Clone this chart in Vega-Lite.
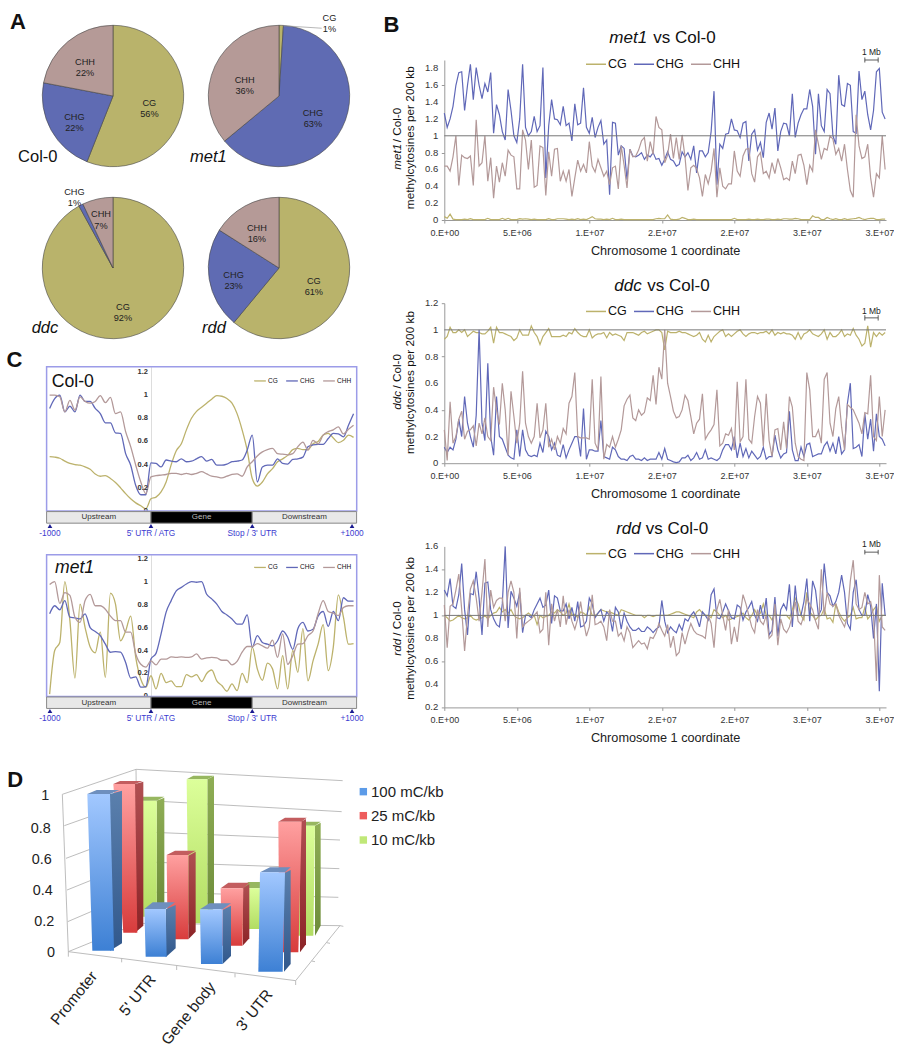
{"$schema":"https://vega.github.io/schema/vega-lite/v6.json","padding":0,"background":"white","autosize":"pad","config":{"font":"Liberation Sans","view":{"stroke":null},"axis":{"grid":false,"labelColor":"#333","domainColor":"#999","tickColor":"#999","labelFont":"Liberation Sans","titleFont":"Liberation Sans","titleFontWeight":"normal","titleColor":"#222"},"legend":{"labelFont":"Liberation Sans","labelColor":"#111"}},
"datasets":{
"one":[{"id":1}],
"letter":[{"t":"D","x":22,"y":80}],
"t1":[{"w":0,"t":"0"},{"w":0.2,"t":"0.2"},{"w":0.4,"t":"0.4"},{"w":0.6,"t":"0.6"},{"w":0.8,"t":"0.8"},{"w":1,"t":"1"},{"w":1.2,"t":"1.2"},{"w":1.4,"t":"1.4"},{"w":1.6,"t":"1.6"},{"w":1.8,"t":"1.8"}],
"t2":[{"w":0,"t":"0"},{"w":0.2,"t":"0.2"},{"w":0.4,"t":"0.4"},{"w":0.6,"t":"0.6"},{"w":0.8,"t":"0.8"},{"w":1,"t":"1"},{"w":1.2,"t":"1.2"}],
"t3":[{"w":0.2,"t":"0.2"},{"w":0.4,"t":"0.4"},{"w":0.6,"t":"0.6"},{"w":0.8,"t":"0.8"},{"w":1,"t":"1"},{"w":1.2,"t":"1.2"},{"w":1.4,"t":"1.4"},{"w":1.6,"t":"1.6"}],
"pie1":[{"c":"CG","p":56,"o":1,"t1":"CG\n56%","t2":""},{"c":"CHG","p":22,"o":2,"t1":"","t2":"CHG\n22%"},{"c":"CHH","p":22,"o":3,"t1":"","t2":"CHH\n22%"}],
"pie2":[{"c":"CG","p":1,"o":1,"t1":"","t2":"CG\n1%"},{"c":"CHG","p":63,"o":2,"t1":"CHG\n63%","t2":""},{"c":"CHH","p":36,"o":3,"t1":"CHH\n36%","t2":""}],
"pie3":[{"c":"CG","p":92,"o":1,"t1":"CG\n92%","t2":"","t3":""},{"c":"CHG","p":1,"o":2,"t1":"","t2":"","t3":"CHG\n1%"},{"c":"CHH","p":7,"o":3,"t1":"","t2":"CHH\n7%","t3":""}],
"pie4":[{"c":"CG","p":61,"o":1,"t1":"CG\n61%","t2":""},{"c":"CHG","p":23,"o":2,"t1":"","t2":"CHG\n23%"},{"c":"CHH","p":16,"o":3,"t1":"","t2":"CHH\n16%"}],
"track":[{"seg":"Upstream","a":-1030,"b":0,"m":-515},{"seg":"Gene","a":0,"b":1000,"m":500},{"seg":"Downstream","a":1000,"b":2030,"m":1515}],
"marks":[{"lab":"-1000","pos":-997},{"lab":"5' UTR / ATG","pos":0},{"lab":"Stop / 3' UTR","pos":1000},{"lab":"+1000","pos":1985}],
"c1":[{"x":-1000,"CG":0.47,"CHG":0.885,"CHH":1.0},{"x":-950,"CG":0.465,"CHG":0.97,"CHH":1.0},{"x":-900,"CG":0.455,"CHG":1.0,"CHH":0.985},{"x":-850,"CG":0.43,"CHG":0.855,"CHH":0.855},{"x":-800,"CG":0.41,"CHG":0.905,"CHH":0.955},{"x":-750,"CG":0.40,"CHG":0.855,"CHH":0.87},{"x":-700,"CG":0.395,"CHG":1.0,"CHH":0.985},{"x":-650,"CG":0.38,"CHG":0.945,"CHH":0.945},{"x":-600,"CG":0.36,"CHG":0.945,"CHH":0.93},{"x":-550,"CG":0.32,"CHG":0.885,"CHH":0.945},{"x":-500,"CG":0.30,"CHG":0.84,"CHH":0.995},{"x":-450,"CG":0.305,"CHG":0.76,"CHH":0.935},{"x":-400,"CG":0.28,"CHG":0.76,"CHH":0.98},{"x":-350,"CG":0.245,"CHG":0.675,"CHH":0.84},{"x":-300,"CG":0.2,"CHG":0.67,"CHH":0.855},{"x":-250,"CG":0.15,"CHG":0.495,"CHH":0.685},{"x":-200,"CG":0.105,"CHG":0.395,"CHH":0.555},{"x":-150,"CG":0.07,"CHG":0.22,"CHH":0.395},{"x":-100,"CG":0.045,"CHG":0.14,"CHH":0.25},{"x":-50,"CG":0.02,"CHG":0.14,"CHH":0.15},{"x":0,"CG":0.105,"CHG":0.415,"CHH":0.295},{"x":50,"CG":0.12,"CHG":0.41,"CHH":0.305},{"x":100,"CG":0.165,"CHG":0.38,"CHH":0.31},{"x":150,"CG":0.25,"CHG":0.44,"CHH":0.315},{"x":200,"CG":0.40,"CHG":0.43,"CHH":0.325},{"x":250,"CG":0.52,"CHG":0.425,"CHH":0.325},{"x":300,"CG":0.58,"CHG":0.45,"CHH":0.315},{"x":350,"CG":0.70,"CHG":0.425,"CHH":0.325},{"x":400,"CG":0.80,"CHG":0.43,"CHH":0.315},{"x":450,"CG":0.86,"CHG":0.45,"CHH":0.325},{"x":500,"CG":0.895,"CHG":0.47,"CHH":0.34},{"x":550,"CG":0.93,"CHG":0.43,"CHH":0.32},{"x":600,"CG":0.965,"CHG":0.445,"CHH":0.30},{"x":650,"CG":0.995,"CHG":0.395,"CHH":0.295},{"x":700,"CG":0.99,"CHG":0.395,"CHH":0.285},{"x":750,"CG":0.97,"CHG":0.405,"CHH":0.30},{"x":800,"CG":0.93,"CHG":0.425,"CHH":0.315},{"x":850,"CG":0.84,"CHG":0.43,"CHH":0.32},{"x":900,"CG":0.70,"CHG":0.44,"CHH":0.30},{"x":950,"CG":0.525,"CHG":0.525,"CHH":0.38},{"x":1000,"CG":0.28,"CHG":0.655,"CHH":0.425},{"x":1050,"CG":0.215,"CHG":0.25,"CHH":0.475},{"x":1100,"CG":0.25,"CHG":0.38,"CHH":0.51},{"x":1150,"CG":0.32,"CHG":0.395,"CHH":0.53},{"x":1200,"CG":0.365,"CHG":0.395,"CHH":0.54},{"x":1250,"CG":0.425,"CHG":0.45,"CHH":0.495},{"x":1300,"CG":0.45,"CHG":0.41,"CHH":0.49},{"x":1350,"CG":0.48,"CHG":0.405,"CHH":0.485},{"x":1400,"CG":0.53,"CHG":0.445,"CHH":0.495},{"x":1450,"CG":0.54,"CHG":0.45,"CHH":0.555},{"x":1500,"CG":0.53,"CHG":0.465,"CHH":0.595},{"x":1550,"CG":0.53,"CHG":0.555,"CHH":0.525},{"x":1600,"CG":0.58,"CHG":0.57,"CHH":0.61},{"x":1650,"CG":0.60,"CHG":0.575,"CHH":0.58},{"x":1700,"CG":0.655,"CHG":0.575,"CHH":0.655},{"x":1750,"CG":0.67,"CHG":0.625,"CHH":0.685},{"x":1800,"CG":0.63,"CHG":0.67,"CHH":0.70},{"x":1850,"CG":0.59,"CHG":0.665,"CHH":0.725},{"x":1900,"CG":0.61,"CHG":0.64,"CHH":0.665},{"x":1950,"CG":0.655,"CHG":0.74,"CHH":0.705},{"x":2000,"CG":0.635,"CHG":0.84,"CHH":0.74}],
"c2":[{"x":-1000,"CG":0.02,"CHG":0.72,"CHH":0.975},{"x":-950,"CG":0.40,"CHG":0.79,"CHH":1.0},{"x":-900,"CG":0.47,"CHG":0.755,"CHH":0.81},{"x":-850,"CG":1.0,"CHG":0.835,"CHH":0.905},{"x":-800,"CG":0.66,"CHG":0.69,"CHH":0.88},{"x":-750,"CG":0.16,"CHG":0.685,"CHH":0.69},{"x":-700,"CG":0.805,"CHG":0.675,"CHH":0.645},{"x":-650,"CG":0.6,"CHG":0.72,"CHH":0.835},{"x":-600,"CG":0.43,"CHG":0.60,"CHH":0.89},{"x":-550,"CG":0.38,"CHG":0.565,"CHH":0.79},{"x":-500,"CG":0.56,"CHG":0.53,"CHH":0.79},{"x":-450,"CG":0.165,"CHG":0.455,"CHH":0.76},{"x":-400,"CG":0.9,"CHG":0.385,"CHH":0.70},{"x":-350,"CG":0.805,"CHG":0.39,"CHH":0.66},{"x":-300,"CG":0.485,"CHG":0.385,"CHH":0.66},{"x":-250,"CG":0.57,"CHG":0.295,"CHH":0.56},{"x":-200,"CG":0.70,"CHG":0.16,"CHH":0.56},{"x":-150,"CG":0.34,"CHG":0.17,"CHH":0.37},{"x":-100,"CG":0.15,"CHG":0.08,"CHH":0.28},{"x":-50,"CG":0.08,"CHG":0.085,"CHH":0.255},{"x":0,"CG":0.18,"CHG":0.325,"CHH":0.31},{"x":50,"CG":0.065,"CHG":0.375,"CHH":0.275},{"x":100,"CG":0.2,"CHG":0.545,"CHH":0.325},{"x":150,"CG":0.12,"CHG":0.735,"CHH":0.325},{"x":200,"CG":0.135,"CHG":0.835,"CHH":0.345},{"x":250,"CG":0.085,"CHG":0.92,"CHH":0.34},{"x":300,"CG":0.085,"CHG":0.95,"CHH":0.345},{"x":350,"CG":0.19,"CHG":0.98,"CHH":0.34},{"x":400,"CG":0.17,"CHG":1.0,"CHH":0.345},{"x":450,"CG":0.19,"CHG":0.995,"CHH":0.37},{"x":500,"CG":0.13,"CHG":1.0,"CHH":0.325},{"x":550,"CG":0.2,"CHG":0.89,"CHH":0.335},{"x":600,"CG":0.23,"CHG":0.85,"CHH":0.34},{"x":650,"CG":0.135,"CHG":0.805,"CHH":0.335},{"x":700,"CG":0.095,"CHG":0.74,"CHH":0.315},{"x":750,"CG":0.045,"CHG":0.71,"CHH":0.315},{"x":800,"CG":0.11,"CHG":0.675,"CHH":0.275},{"x":850,"CG":0.05,"CHG":0.63,"CHH":0.305},{"x":900,"CG":0.2,"CHG":0.63,"CHH":0.385},{"x":950,"CG":0.12,"CHG":0.71,"CHH":0.435},{"x":1000,"CG":0.43,"CHG":0.43,"CHH":0.435},{"x":1050,"CG":0.24,"CHG":0.53,"CHH":0.46},{"x":1100,"CG":0.14,"CHG":0.47,"CHH":0.44},{"x":1150,"CG":0.29,"CHG":0.455,"CHH":0.42},{"x":1200,"CG":0.24,"CHG":0.44,"CHH":0.49},{"x":1250,"CG":0.065,"CHG":0.485,"CHH":0.34},{"x":1300,"CG":0.355,"CHG":0.57,"CHH":0.545},{"x":1350,"CG":0.065,"CHG":0.515,"CHH":0.28},{"x":1400,"CG":0.40,"CHG":0.41,"CHH":0.355},{"x":1450,"CG":0.21,"CHG":0.59,"CHH":0.455},{"x":1500,"CG":0.59,"CHG":0.645,"CHH":0.46},{"x":1550,"CG":0.135,"CHG":0.57,"CHH":0.53},{"x":1600,"CG":0.31,"CHG":0.585,"CHH":0.57},{"x":1650,"CG":0.455,"CHG":0.70,"CHH":0.72},{"x":1700,"CG":0.625,"CHG":0.74,"CHH":0.835},{"x":1750,"CG":0.225,"CHG":0.61,"CHH":0.74},{"x":1800,"CG":0.43,"CHG":0.74,"CHH":0.725},{"x":1850,"CG":0.885,"CHG":0.66,"CHH":0.705},{"x":1900,"CG":0.69,"CHG":0.86,"CHH":0.775},{"x":1950,"CG":0.455,"CHG":0.83,"CHH":0.79},{"x":2000,"CG":0.46,"CHG":0.83,"CHH":0.79}],
"b1":[{"x":0,"CG":0.04,"CHG":1.27,"CHH":0.64},{"x":0.2,"CG":0.02,"CHG":1.1,"CHH":0.64},{"x":0.4,"CG":0.07,"CHG":1.2,"CHH":0.58},{"x":0.6,"CG":0.01,"CHG":1.35,"CHH":0.75},{"x":0.8,"CG":0.005,"CHG":1.6,"CHH":1.0},{"x":1,"CG":0.005,"CHG":1.75,"CHH":0.41},{"x":1.2,"CG":0.005,"CHG":1.76,"CHH":0.77},{"x":1.4,"CG":0.01,"CHG":1.3,"CHH":0.74},{"x":1.6,"CG":0.005,"CHG":1.6,"CHH":0.73},{"x":1.8,"CG":0.015,"CHG":1.85,"CHH":0.76},{"x":2,"CG":0.005,"CHG":1.43,"CHH":0.41},{"x":2.2,"CG":0.005,"CHG":1.81,"CHH":1.19},{"x":2.4,"CG":0.005,"CHG":1.6,"CHH":0.64},{"x":2.6,"CG":0.005,"CHG":1.44,"CHH":0.68},{"x":2.8,"CG":0.005,"CHG":1.62,"CHH":1.0},{"x":3,"CG":0.02,"CHG":1.52,"CHH":0.46},{"x":3.2,"CG":0.005,"CHG":1.75,"CHH":0.74},{"x":3.4,"CG":0.005,"CHG":1.03,"CHH":0.26},{"x":3.6,"CG":0.005,"CHG":1.37,"CHH":0.64},{"x":3.8,"CG":0.005,"CHG":1.25,"CHH":0.45},{"x":4,"CG":0.02,"CHG":1.05,"CHH":0.68},{"x":4.2,"CG":0.005,"CHG":0.95,"CHH":0.52},{"x":4.4,"CG":0.02,"CHG":1.55,"CHH":0.83},{"x":4.6,"CG":0.005,"CHG":1.3,"CHH":0.77},{"x":4.8,"CG":0.005,"CHG":1.0,"CHH":0.75},{"x":5,"CG":0.005,"CHG":0.92,"CHH":0.37},{"x":5.2,"CG":0.015,"CHG":1.2,"CHH":0.37},{"x":5.4,"CG":0.01,"CHG":1.85,"CHH":1.07},{"x":5.6,"CG":0.015,"CHG":1.1,"CHH":0.95},{"x":5.8,"CG":0.01,"CHG":1.0,"CHH":0.6},{"x":6,"CG":0.005,"CHG":1.05,"CHH":0.95},{"x":6.2,"CG":0.01,"CHG":1.23,"CHH":0.39},{"x":6.4,"CG":0.005,"CHG":1.05,"CHH":0.41},{"x":6.6,"CG":0.005,"CHG":1.12,"CHH":0.88},{"x":6.8,"CG":0.005,"CHG":1.81,"CHH":0.86},{"x":7,"CG":0.005,"CHG":0.5,"CHH":0.29},{"x":7.2,"CG":0.015,"CHG":1.12,"CHH":0.81},{"x":7.4,"CG":0.005,"CHG":1.43,"CHH":0.52},{"x":7.6,"CG":0.005,"CHG":1.2,"CHH":0.84},{"x":7.8,"CG":0.015,"CHG":1.19,"CHH":0.85},{"x":8,"CG":0.015,"CHG":1.13,"CHH":0.46},{"x":8.2,"CG":0.015,"CHG":1.35,"CHH":0.58},{"x":8.4,"CG":0.01,"CHG":1.12,"CHH":0.46},{"x":8.6,"CG":0.005,"CHG":1.15,"CHH":0.6},{"x":8.8,"CG":0.01,"CHG":0.94,"CHH":0.28},{"x":9,"CG":0.005,"CHG":1.38,"CHH":0.5},{"x":9.2,"CG":0.015,"CHG":1.13,"CHH":0.71},{"x":9.4,"CG":0.005,"CHG":1.15,"CHH":0.58},{"x":9.6,"CG":0.01,"CHG":1.57,"CHH":0.66},{"x":9.8,"CG":0.005,"CHG":1.1,"CHH":0.56},{"x":10,"CG":0.02,"CHG":1.03,"CHH":0.93},{"x":10.2,"CG":0.04,"CHG":1.22,"CHH":0.64},{"x":10.4,"CG":0.015,"CHG":0.98,"CHH":0.57},{"x":10.6,"CG":0.01,"CHG":1.1,"CHH":0.72},{"x":10.8,"CG":0.01,"CHG":1.18,"CHH":0.62},{"x":11,"CG":0.005,"CHG":0.9,"CHH":0.52},{"x":11.2,"CG":0.01,"CHG":0.95,"CHH":0.58},{"x":11.4,"CG":0.005,"CHG":0.3,"CHH":0.42},{"x":11.6,"CG":0.02,"CHG":1.16,"CHH":0.62},{"x":11.8,"CG":0.005,"CHG":1.15,"CHH":0.64},{"x":12,"CG":0.005,"CHG":0.77,"CHH":0.37},{"x":12.2,"CG":0.01,"CHG":0.88,"CHH":0.88},{"x":12.4,"CG":0.005,"CHG":0.85,"CHH":0.65},{"x":12.6,"CG":0.005,"CHG":0.48,"CHH":0.38},{"x":12.8,"CG":0.005,"CHG":0.84,"CHH":0.84},{"x":13,"CG":0.005,"CHG":0.76,"CHH":0.75},{"x":13.2,"CG":0.005,"CHG":0.75,"CHH":0.76},{"x":13.4,"CG":0.005,"CHG":0.77,"CHH":0.83},{"x":13.6,"CG":0.005,"CHG":0.8,"CHH":0.94},{"x":13.8,"CG":0.005,"CHG":0.72,"CHH":0.98},{"x":14,"CG":0.005,"CHG":0.77,"CHH":0.7},{"x":14.2,"CG":0.005,"CHG":0.75,"CHH":0.93},{"x":14.4,"CG":0.005,"CHG":0.8,"CHH":0.78},{"x":14.6,"CG":0.015,"CHG":0.72,"CHH":1.23},{"x":14.8,"CG":0.02,"CHG":0.73,"CHH":1.1},{"x":15,"CG":0.015,"CHG":0.65,"CHH":1.07},{"x":15.2,"CG":0.015,"CHG":0.72,"CHH":0.68},{"x":15.4,"CG":0.06,"CHG":0.81,"CHH":0.77},{"x":15.6,"CG":0.01,"CHG":0.72,"CHH":1.02},{"x":15.8,"CG":0.005,"CHG":0.7,"CHH":0.73},{"x":16,"CG":0.005,"CHG":0.64,"CHH":0.98},{"x":16.2,"CG":0.01,"CHG":0.66,"CHH":0.72},{"x":16.4,"CG":0.03,"CHG":0.81,"CHH":1.01},{"x":16.6,"CG":0.02,"CHG":0.75,"CHH":0.75},{"x":16.8,"CG":0.005,"CHG":0.8,"CHH":0.35},{"x":17,"CG":0.005,"CHG":0.72,"CHH":0.62},{"x":17.2,"CG":0.01,"CHG":0.88,"CHH":0.65},{"x":17.4,"CG":0.005,"CHG":0.56,"CHH":0.61},{"x":17.6,"CG":0.005,"CHG":0.82,"CHH":0.5},{"x":17.8,"CG":0.005,"CHG":0.82,"CHH":0.28},{"x":18,"CG":0.005,"CHG":0.75,"CHH":0.54},{"x":18.2,"CG":0.005,"CHG":0.8,"CHH":0.43},{"x":18.4,"CG":0.005,"CHG":1.05,"CHH":0.58},{"x":18.6,"CG":0.005,"CHG":1.53,"CHH":0.85},{"x":18.8,"CG":0.005,"CHG":0.42,"CHH":0.27},{"x":19,"CG":0.005,"CHG":0.9,"CHH":0.62},{"x":19.2,"CG":0.005,"CHG":0.85,"CHH":0.4},{"x":19.4,"CG":0.005,"CHG":1.02,"CHH":0.37},{"x":19.6,"CG":0.005,"CHG":1.03,"CHH":0.43},{"x":19.8,"CG":0.005,"CHG":1.2,"CHH":0.43},{"x":20,"CG":0.02,"CHG":1.07,"CHH":0.82},{"x":20.2,"CG":0.005,"CHG":1.06,"CHH":0.58},{"x":20.4,"CG":0.005,"CHG":0.98,"CHH":0.52},{"x":20.6,"CG":0.005,"CHG":1.15,"CHH":0.76},{"x":20.8,"CG":0.005,"CHG":1.17,"CHH":0.84},{"x":21,"CG":0.01,"CHG":0.7,"CHH":0.85},{"x":21.2,"CG":0.005,"CHG":1.02,"CHH":0.55},{"x":21.4,"CG":0.005,"CHG":1.07,"CHH":0.45},{"x":21.6,"CG":0.01,"CHG":0.83,"CHH":0.75},{"x":21.8,"CG":0.005,"CHG":0.92,"CHH":0.8},{"x":22,"CG":0.005,"CHG":0.74,"CHH":0.55},{"x":22.2,"CG":0.01,"CHG":1.16,"CHH":0.58},{"x":22.4,"CG":0.01,"CHG":1.27,"CHH":0.5},{"x":22.6,"CG":0.005,"CHG":1.08,"CHH":0.68},{"x":22.8,"CG":0.005,"CHG":1.33,"CHH":0.55},{"x":23,"CG":0.01,"CHG":0.82,"CHH":0.73},{"x":23.2,"CG":0.005,"CHG":1.05,"CHH":0.62},{"x":23.4,"CG":0.015,"CHG":1.15,"CHH":0.48},{"x":23.6,"CG":0.015,"CHG":1.14,"CHH":0.5},{"x":23.8,"CG":0.01,"CHG":1.0,"CHH":0.47},{"x":24,"CG":0.01,"CHG":1.5,"CHH":0.7},{"x":24.2,"CG":0.02,"CHG":0.98,"CHH":0.55},{"x":24.4,"CG":0.015,"CHG":1.15,"CHH":0.77},{"x":24.6,"CG":0.005,"CHG":1.25,"CHH":0.78},{"x":24.8,"CG":0.005,"CHG":1.32,"CHH":0.65},{"x":25,"CG":0.005,"CHG":1.32,"CHH":0.42},{"x":25.2,"CG":0.005,"CHG":1.55,"CHH":0.65},{"x":25.4,"CG":0.05,"CHG":1.35,"CHH":0.58},{"x":25.6,"CG":0.03,"CHG":0.78,"CHH":1.07},{"x":25.8,"CG":0.03,"CHG":1.5,"CHH":0.9},{"x":26,"CG":0.005,"CHG":1.12,"CHH":0.72},{"x":26.2,"CG":0.005,"CHG":1.05,"CHH":0.85},{"x":26.4,"CG":0.03,"CHG":1.55,"CHH":0.83},{"x":26.6,"CG":0.015,"CHG":1.5,"CHH":1.0},{"x":26.8,"CG":0.005,"CHG":1.0,"CHH":0.96},{"x":27,"CG":0.015,"CHG":0.9,"CHH":0.78},{"x":27.2,"CG":0.005,"CHG":1.72,"CHH":0.85},{"x":27.4,"CG":0.005,"CHG":1.37,"CHH":0.7},{"x":27.6,"CG":0.015,"CHG":1.35,"CHH":0.9},{"x":27.8,"CG":0.005,"CHG":1.62,"CHH":0.6},{"x":28,"CG":0.01,"CHG":1.6,"CHH":0.35},{"x":28.2,"CG":0.015,"CHG":1.05,"CHH":0.27},{"x":28.4,"CG":0.02,"CHG":1.03,"CHH":1.25},{"x":28.6,"CG":0.03,"CHG":1.77,"CHH":0.88},{"x":28.8,"CG":0.015,"CHG":1.43,"CHH":0.73},{"x":29,"CG":0.005,"CHG":1.53,"CHH":0.75},{"x":29.2,"CG":0.015,"CHG":1.25,"CHH":0.9},{"x":29.4,"CG":0.02,"CHG":1.07,"CHH":0.5},{"x":29.6,"CG":0.02,"CHG":1.3,"CHH":0.27},{"x":29.8,"CG":0.005,"CHG":1.76,"CHH":0.55},{"x":30,"CG":0.005,"CHG":1.8,"CHH":0.5},{"x":30.2,"CG":0.01,"CHG":1.28,"CHH":1.0},{"x":30.4,"CG":0.01,"CHG":1.2,"CHH":0.6}],
"b2":[{"x":0,"CG":0.93,"CHG":0.12,"CHH":0.25},{"x":0.2,"CG":0.95,"CHG":0.08,"CHH":0.02},{"x":0.4,"CG":1.02,"CHG":0.12,"CHH":0.46},{"x":0.6,"CG":0.98,"CHG":0.1,"CHH":0.15},{"x":0.8,"CG":0.98,"CHG":0.18,"CHH":0.2},{"x":1,"CG":1.0,"CHG":0.33,"CHH":0.33},{"x":1.2,"CG":0.98,"CHG":0.2,"CHH":0.39},{"x":1.4,"CG":1.0,"CHG":0.5,"CHH":0.18},{"x":1.6,"CG":0.95,"CHG":0.3,"CHH":0.24},{"x":1.8,"CG":0.97,"CHG":0.2,"CHH":0.25},{"x":2,"CG":0.99,"CHG":0.12,"CHH":0.28},{"x":2.2,"CG":0.98,"CHG":0.36,"CHH":0.13},{"x":2.4,"CG":0.98,"CHG":1.0,"CHH":0.3},{"x":2.6,"CG":0.97,"CHG":0.3,"CHH":0.22},{"x":2.8,"CG":0.97,"CHG":0.17,"CHH":0.34},{"x":3,"CG":0.99,"CHG":0.75,"CHH":0.2},{"x":3.2,"CG":1.02,"CHG":0.2,"CHH":0.17},{"x":3.4,"CG":0.9,"CHG":0.06,"CHH":0.57},{"x":3.6,"CG":1.02,"CHG":0.5,"CHH":0.4},{"x":3.8,"CG":0.98,"CHG":0.2,"CHH":0.29},{"x":4,"CG":0.98,"CHG":0.18,"CHH":0.6},{"x":4.2,"CG":0.97,"CHG":0.12,"CHH":0.4},{"x":4.4,"CG":0.96,"CHG":0.06,"CHH":0.06},{"x":4.6,"CG":0.95,"CHG":0.04,"CHH":0.54},{"x":4.8,"CG":0.92,"CHG":0.03,"CHH":0.35},{"x":5,"CG":0.94,"CHG":0.25,"CHH":0.15},{"x":5.2,"CG":1.0,"CHG":0.05,"CHH":0.3},{"x":5.4,"CG":0.96,"CHG":0.25,"CHH":0.69},{"x":5.6,"CG":0.96,"CHG":0.1,"CHH":0.3},{"x":5.8,"CG":0.96,"CHG":0.06,"CHH":0.2},{"x":6,"CG":1.03,"CHG":0.05,"CHH":0.15},{"x":6.2,"CG":0.98,"CHG":0.06,"CHH":0.2},{"x":6.4,"CG":0.95,"CHG":0.05,"CHH":0.45},{"x":6.6,"CG":0.89,"CHG":0.15,"CHH":0.19},{"x":6.8,"CG":0.95,"CHG":0.08,"CHH":0.25},{"x":7,"CG":0.98,"CHG":0.24,"CHH":0.45},{"x":7.2,"CG":1.01,"CHG":0.2,"CHH":0.12},{"x":7.4,"CG":0.95,"CHG":0.1,"CHH":0.18},{"x":7.6,"CG":0.95,"CHG":0.15,"CHH":0.1},{"x":7.8,"CG":0.95,"CHG":0.06,"CHH":0.2},{"x":8,"CG":0.95,"CHG":0.05,"CHH":0.15},{"x":8.2,"CG":0.96,"CHG":0.14,"CHH":0.26},{"x":8.4,"CG":0.95,"CHG":0.04,"CHH":0.22},{"x":8.6,"CG":0.98,"CHG":0.1,"CHH":0.45},{"x":8.8,"CG":0.97,"CHG":0.15,"CHH":0.5},{"x":9,"CG":1.01,"CHG":0.2,"CHH":0.68},{"x":9.2,"CG":0.98,"CHG":0.2,"CHH":0.2},{"x":9.4,"CG":0.96,"CHG":0.05,"CHH":0.19},{"x":9.6,"CG":0.95,"CHG":0.41,"CHH":0.19},{"x":9.8,"CG":0.95,"CHG":0.03,"CHH":0.19},{"x":10,"CG":1.0,"CHG":0.1,"CHH":0.18},{"x":10.2,"CG":0.94,"CHG":0.1,"CHH":0.63},{"x":10.4,"CG":0.96,"CHG":0.09,"CHH":0.15},{"x":10.6,"CG":0.97,"CHG":0.09,"CHH":0.1},{"x":10.8,"CG":0.97,"CHG":0.32,"CHH":0.65},{"x":11,"CG":0.98,"CHG":0.05,"CHH":0.03},{"x":11.2,"CG":0.94,"CHG":0.04,"CHH":0.14},{"x":11.4,"CG":0.98,"CHG":0.03,"CHH":0.12},{"x":11.6,"CG":0.96,"CHG":0.12,"CHH":0.2},{"x":11.8,"CG":0.97,"CHG":0.1,"CHH":0.12},{"x":12,"CG":0.96,"CHG":0.05,"CHH":0.18},{"x":12.2,"CG":0.95,"CHG":0.03,"CHH":0.25},{"x":12.4,"CG":0.92,"CHG":0.03,"CHH":0.43},{"x":12.6,"CG":0.98,"CHG":0.02,"CHH":0.48},{"x":12.8,"CG":0.98,"CHG":0.05,"CHH":0.51},{"x":13,"CG":0.98,"CHG":0.06,"CHH":0.34},{"x":13.2,"CG":0.97,"CHG":0.03,"CHH":0.32},{"x":13.4,"CG":0.96,"CHG":0.03,"CHH":0.4},{"x":13.6,"CG":0.98,"CHG":0.02,"CHH":0.36},{"x":13.8,"CG":0.99,"CHG":0.04,"CHH":0.38},{"x":14,"CG":0.97,"CHG":0.02,"CHH":0.49},{"x":14.2,"CG":0.98,"CHG":0.03,"CHH":0.47},{"x":14.4,"CG":0.99,"CHG":0.03,"CHH":0.66},{"x":14.6,"CG":1.0,"CHG":0.03,"CHH":0.44},{"x":14.8,"CG":1.0,"CHG":0.08,"CHH":0.72},{"x":15,"CG":0.98,"CHG":0.03,"CHH":0.63},{"x":15.2,"CG":0.85,"CHG":0.11,"CHH":1.0},{"x":15.4,"CG":0.99,"CHG":0.03,"CHH":0.6},{"x":15.6,"CG":0.98,"CHG":0.02,"CHH":0.5},{"x":15.8,"CG":0.98,"CHG":0.01,"CHH":0.39},{"x":16,"CG":0.98,"CHG":0.005,"CHH":0.34},{"x":16.2,"CG":0.99,"CHG":0.01,"CHH":0.35},{"x":16.4,"CG":0.98,"CHG":0.04,"CHH":0.4},{"x":16.6,"CG":0.98,"CHG":0.04,"CHH":0.51},{"x":16.8,"CG":0.97,"CHG":0.06,"CHH":0.47},{"x":17,"CG":0.96,"CHG":0.02,"CHH":0.35},{"x":17.2,"CG":0.95,"CHG":0.04,"CHH":0.22},{"x":17.4,"CG":0.96,"CHG":0.08,"CHH":0.3},{"x":17.6,"CG":0.98,"CHG":0.03,"CHH":0.33},{"x":17.8,"CG":0.93,"CHG":0.04,"CHH":0.52},{"x":18,"CG":0.91,"CHG":0.1,"CHH":0.18},{"x":18.2,"CG":0.96,"CHG":0.03,"CHH":0.22},{"x":18.4,"CG":0.91,"CHG":0.04,"CHH":0.25},{"x":18.6,"CG":0.95,"CHG":0.03,"CHH":0.29},{"x":18.8,"CG":0.97,"CHG":0.02,"CHH":0.55},{"x":19,"CG":0.99,"CHG":0.04,"CHH":0.13},{"x":19.2,"CG":1.0,"CHG":0.1,"CHH":0.15},{"x":19.4,"CG":0.95,"CHG":0.14,"CHH":0.22},{"x":19.6,"CG":0.97,"CHG":0.14,"CHH":0.21},{"x":19.8,"CG":0.95,"CHG":0.1,"CHH":0.26},{"x":20,"CG":0.97,"CHG":0.2,"CHH":0.1},{"x":20.2,"CG":0.99,"CHG":0.04,"CHH":0.61},{"x":20.4,"CG":1.0,"CHG":0.15,"CHH":0.16},{"x":20.6,"CG":0.97,"CHG":0.05,"CHH":0.2},{"x":20.8,"CG":0.95,"CHG":0.11,"CHH":0.63},{"x":21,"CG":0.97,"CHG":0.04,"CHH":0.18},{"x":21.2,"CG":0.98,"CHG":0.09,"CHH":0.15},{"x":21.4,"CG":0.98,"CHG":0.06,"CHH":0.35},{"x":21.6,"CG":0.97,"CHG":0.03,"CHH":0.5},{"x":21.8,"CG":0.98,"CHG":0.05,"CHH":0.45},{"x":22,"CG":0.98,"CHG":0.12,"CHH":0.13},{"x":22.2,"CG":0.99,"CHG":0.03,"CHH":0.52},{"x":22.4,"CG":0.97,"CHG":0.05,"CHH":0.17},{"x":22.6,"CG":1.0,"CHG":0.05,"CHH":0.05},{"x":22.8,"CG":0.96,"CHG":0.21,"CHH":0.25},{"x":23,"CG":0.98,"CHG":0.1,"CHH":0.26},{"x":23.2,"CG":0.97,"CHG":0.04,"CHH":0.1},{"x":23.4,"CG":0.98,"CHG":0.07,"CHH":0.31},{"x":23.6,"CG":0.97,"CHG":0.08,"CHH":0.11},{"x":23.8,"CG":0.97,"CHG":0.39,"CHH":0.5},{"x":24,"CG":0.96,"CHG":0.1,"CHH":0.42},{"x":24.2,"CG":0.93,"CHG":0.02,"CHH":0.15},{"x":24.4,"CG":0.98,"CHG":0.02,"CHH":0.05},{"x":24.6,"CG":0.93,"CHG":0.12,"CHH":0.03},{"x":24.8,"CG":0.97,"CHG":0.05,"CHH":0.02},{"x":25,"CG":0.98,"CHG":0.14,"CHH":0.68},{"x":25.2,"CG":1.0,"CHG":0.15,"CHH":0.55},{"x":25.4,"CG":0.97,"CHG":0.05,"CHH":0.2},{"x":25.6,"CG":0.96,"CHG":0.06,"CHH":0.2},{"x":25.8,"CG":0.95,"CHG":0.07,"CHH":0.25},{"x":26,"CG":0.97,"CHG":0.07,"CHH":0.15},{"x":26.2,"CG":1.0,"CHG":0.13,"CHH":0.63},{"x":26.4,"CG":0.93,"CHG":0.16,"CHH":0.68},{"x":26.6,"CG":0.98,"CHG":0.09,"CHH":0.3},{"x":26.8,"CG":0.95,"CHG":0.15,"CHH":0.2},{"x":27,"CG":0.95,"CHG":0.07,"CHH":0.41},{"x":27.2,"CG":0.97,"CHG":0.2,"CHH":0.5},{"x":27.4,"CG":1.0,"CHG":0.07,"CHH":0.27},{"x":27.6,"CG":0.95,"CHG":0.1,"CHH":0.1},{"x":27.8,"CG":0.97,"CHG":0.45,"CHH":0.44},{"x":28,"CG":0.96,"CHG":0.6,"CHH":0.42},{"x":28.2,"CG":1.01,"CHG":0.11,"CHH":0.4},{"x":28.4,"CG":0.96,"CHG":0.12,"CHH":0.35},{"x":28.6,"CG":0.93,"CHG":0.14,"CHH":0.3},{"x":28.8,"CG":0.88,"CHG":0.05,"CHH":0.22},{"x":29,"CG":0.9,"CHG":0.37,"CHH":0.38},{"x":29.2,"CG":1.03,"CHG":0.18,"CHH":0.37},{"x":29.4,"CG":0.87,"CHG":0.33,"CHH":0.66},{"x":29.6,"CG":0.98,"CHG":0.09,"CHH":0.2},{"x":29.8,"CG":0.95,"CHG":0.37,"CHH":0.17},{"x":30,"CG":0.98,"CHG":0.2,"CHH":0.5},{"x":30.2,"CG":0.96,"CHG":0.18,"CHH":0.2},{"x":30.4,"CG":0.98,"CHG":0.13,"CHH":0.4}],
"b3":[{"x":0,"CG":1.0,"CHG":1.22,"CHH":1.09},{"x":0.2,"CG":0.98,"CHG":1.17,"CHH":0.72},{"x":0.4,"CG":0.95,"CHG":1.32,"CHH":1.08},{"x":0.6,"CG":0.96,"CHG":1.08,"CHH":1.1},{"x":0.8,"CG":0.98,"CHG":1.06,"CHH":1.22},{"x":1,"CG":1.0,"CHG":1.18,"CHH":1.36},{"x":1.2,"CG":0.98,"CHG":1.45,"CHH":1.05},{"x":1.4,"CG":0.97,"CHG":1.05,"CHH":0.69},{"x":1.6,"CG":0.98,"CHG":0.83,"CHH":1.0},{"x":1.8,"CG":1.0,"CHG":1.19,"CHH":1.23},{"x":2,"CG":0.97,"CHG":1.18,"CHH":1.3},{"x":2.2,"CG":0.96,"CHG":1.38,"CHH":1.15},{"x":2.4,"CG":0.97,"CHG":1.15,"CHH":0.95},{"x":2.6,"CG":0.98,"CHG":0.83,"CHH":1.2},{"x":2.8,"CG":1.0,"CHG":1.28,"CHH":1.49},{"x":3,"CG":0.97,"CHG":1.29,"CHH":0.9},{"x":3.2,"CG":1.0,"CHG":1.05,"CHH":1.22},{"x":3.4,"CG":1.02,"CHG":0.97,"CHH":1.07},{"x":3.6,"CG":1.03,"CHG":0.92,"CHH":1.13},{"x":3.8,"CG":1.07,"CHG":0.9,"CHH":1.15},{"x":4,"CG":1.03,"CHG":1.1,"CHH":1.15},{"x":4.2,"CG":1.05,"CHG":1.6,"CHH":0.95},{"x":4.4,"CG":1.02,"CHG":0.89,"CHH":1.2},{"x":4.6,"CG":1.05,"CHG":1.21,"CHH":1.3},{"x":4.8,"CG":1.0,"CHG":1.15,"CHH":1.2},{"x":5,"CG":0.98,"CHG":1.08,"CHH":0.8},{"x":5.2,"CG":0.97,"CHG":1.2,"CHH":1.24},{"x":5.4,"CG":0.98,"CHG":0.85,"CHH":0.9},{"x":5.6,"CG":1.0,"CHG":1.0,"CHH":0.93},{"x":5.8,"CG":1.02,"CHG":1.0,"CHH":0.95},{"x":6,"CG":1.0,"CHG":0.98,"CHH":0.97},{"x":6.2,"CG":1.0,"CHG":1.05,"CHH":1.0},{"x":6.4,"CG":0.92,"CHG":1.1,"CHH":1.03},{"x":6.6,"CG":1.0,"CHG":1.15,"CHH":0.85},{"x":6.8,"CG":0.98,"CHG":1.07,"CHH":0.88},{"x":7,"CG":0.99,"CHG":1.09,"CHH":1.2},{"x":7.2,"CG":1.0,"CHG":1.22,"CHH":0.74},{"x":7.4,"CG":1.03,"CHG":0.93,"CHH":1.1},{"x":7.6,"CG":1.02,"CHG":1.17,"CHH":0.95},{"x":7.8,"CG":1.05,"CHG":1.15,"CHH":1.05},{"x":8,"CG":1.03,"CHG":1.04,"CHH":0.9},{"x":8.2,"CG":1.0,"CHG":1.04,"CHH":1.17},{"x":8.4,"CG":1.02,"CHG":1.1,"CHH":0.92},{"x":8.6,"CG":1.1,"CHG":0.97,"CHH":1.05},{"x":8.8,"CG":1.0,"CHG":1.07,"CHH":0.95},{"x":9,"CG":1.01,"CHG":0.95,"CHH":0.88},{"x":9.2,"CG":0.98,"CHG":1.12,"CHH":0.97},{"x":9.4,"CG":1.03,"CHG":0.9,"CHH":1.12},{"x":9.6,"CG":1.02,"CHG":0.91,"CHH":0.95},{"x":9.8,"CG":1.0,"CHG":0.95,"CHH":0.82},{"x":10,"CG":1.07,"CHG":1.15,"CHH":0.9},{"x":10.2,"CG":1.0,"CHG":1.1,"CHH":1.18},{"x":10.4,"CG":1.0,"CHG":0.98,"CHH":0.92},{"x":10.6,"CG":1.02,"CHG":1.02,"CHH":0.93},{"x":10.8,"CG":1.05,"CHG":1.05,"CHH":0.95},{"x":11,"CG":1.04,"CHG":0.95,"CHH":0.9},{"x":11.2,"CG":1.03,"CHG":1.03,"CHH":0.78},{"x":11.4,"CG":1.03,"CHG":1.0,"CHH":1.05},{"x":11.6,"CG":1.02,"CHG":0.86,"CHH":0.95},{"x":11.8,"CG":1.01,"CHG":1.07,"CHH":0.95},{"x":12,"CG":1.0,"CHG":1.03,"CHH":0.82},{"x":12.2,"CG":1.05,"CHG":0.88,"CHH":0.85},{"x":12.4,"CG":1.04,"CHG":1.02,"CHH":0.78},{"x":12.6,"CG":1.03,"CHG":0.95,"CHH":0.9},{"x":12.8,"CG":1.02,"CHG":0.9,"CHH":0.85},{"x":13,"CG":1.01,"CHG":0.87,"CHH":0.72},{"x":13.2,"CG":1.0,"CHG":0.87,"CHH":0.75},{"x":13.4,"CG":1.0,"CHG":0.89,"CHH":0.78},{"x":13.6,"CG":1.0,"CHG":0.86,"CHH":0.75},{"x":13.8,"CG":0.98,"CHG":0.86,"CHH":0.76},{"x":14,"CG":1.0,"CHG":0.9,"CHH":0.71},{"x":14.2,"CG":1.0,"CHG":0.88,"CHH":0.81},{"x":14.4,"CG":0.99,"CHG":0.85,"CHH":0.8},{"x":14.6,"CG":1.0,"CHG":0.88,"CHH":0.85},{"x":14.8,"CG":1.0,"CHG":0.9,"CHH":0.93},{"x":15,"CG":1.0,"CHG":1.13,"CHH":0.87},{"x":15.2,"CG":1.0,"CHG":0.95,"CHH":0.82},{"x":15.4,"CG":1.0,"CHG":0.85,"CHH":0.92},{"x":15.6,"CG":1.01,"CHG":0.9,"CHH":0.72},{"x":15.8,"CG":1.02,"CHG":0.87,"CHH":0.82},{"x":16,"CG":1.03,"CHG":0.85,"CHH":0.65},{"x":16.2,"CG":1.03,"CHG":0.92,"CHH":0.68},{"x":16.4,"CG":1.02,"CHG":0.87,"CHH":0.85},{"x":16.6,"CG":1.01,"CHG":0.97,"CHH":0.75},{"x":16.8,"CG":1.0,"CHG":0.95,"CHH":0.85},{"x":17,"CG":0.99,"CHG":1.0,"CHH":0.93},{"x":17.2,"CG":0.98,"CHG":1.03,"CHH":0.87},{"x":17.4,"CG":1.03,"CHG":0.98,"CHH":0.84},{"x":17.6,"CG":1.05,"CHG":0.9,"CHH":0.83},{"x":17.8,"CG":1.02,"CHG":1.03,"CHH":0.82},{"x":18,"CG":1.0,"CHG":1.0,"CHH":0.8},{"x":18.2,"CG":1.0,"CHG":0.96,"CHH":1.0},{"x":18.4,"CG":0.98,"CHG":1.18,"CHH":0.93},{"x":18.6,"CG":1.05,"CHG":1.23,"CHH":0.72},{"x":18.8,"CG":1.03,"CHG":0.98,"CHH":1.05},{"x":19,"CG":1.0,"CHG":0.97,"CHH":1.14},{"x":19.2,"CG":0.98,"CHG":1.03,"CHH":1.0},{"x":19.4,"CG":1.0,"CHG":1.1,"CHH":0.87},{"x":19.6,"CG":0.96,"CHG":1.04,"CHH":1.05},{"x":19.8,"CG":0.97,"CHG":0.98,"CHH":0.75},{"x":20,"CG":0.98,"CHG":0.97,"CHH":0.9},{"x":20.2,"CG":0.99,"CHG":1.09,"CHH":0.77},{"x":20.4,"CG":1.0,"CHG":1.07,"CHH":1.0},{"x":20.6,"CG":1.02,"CHG":0.96,"CHH":1.18},{"x":20.8,"CG":0.98,"CHG":1.03,"CHH":1.1},{"x":21,"CG":0.96,"CHG":1.07,"CHH":1.0},{"x":21.2,"CG":1.0,"CHG":1.12,"CHH":0.9},{"x":21.4,"CG":1.05,"CHG":1.0,"CHH":0.85},{"x":21.6,"CG":1.0,"CHG":0.95,"CHH":1.05},{"x":21.8,"CG":1.02,"CHG":1.09,"CHH":0.95},{"x":22,"CG":1.1,"CHG":0.97,"CHH":0.92},{"x":22.2,"CG":1.0,"CHG":1.15,"CHH":1.0},{"x":22.4,"CG":1.0,"CHG":0.83,"CHH":0.8},{"x":22.6,"CG":0.96,"CHG":0.87,"CHH":0.83},{"x":22.8,"CG":1.02,"CHG":1.16,"CHH":1.1},{"x":23,"CG":1.0,"CHG":0.82,"CHH":0.74},{"x":23.2,"CG":1.0,"CHG":1.05,"CHH":0.97},{"x":23.4,"CG":1.0,"CHG":1.1,"CHH":0.88},{"x":23.6,"CG":1.0,"CHG":1.05,"CHH":0.85},{"x":23.8,"CG":0.97,"CHG":1.27,"CHH":0.9},{"x":24,"CG":1.05,"CHG":0.9,"CHH":1.0},{"x":24.2,"CG":1.15,"CHG":1.26,"CHH":1.12},{"x":24.4,"CG":1.1,"CHG":1.0,"CHH":0.95},{"x":24.6,"CG":1.0,"CHG":1.0,"CHH":0.92},{"x":24.8,"CG":0.96,"CHG":1.12,"CHH":1.0},{"x":25,"CG":1.2,"CHG":1.32,"CHH":1.15},{"x":25.2,"CG":1.03,"CHG":0.95,"CHH":1.1},{"x":25.4,"CG":1.0,"CHG":1.3,"CHH":1.05},{"x":25.6,"CG":0.96,"CHG":1.22,"CHH":0.95},{"x":25.8,"CG":0.99,"CHG":1.0,"CHH":0.88},{"x":26,"CG":1.0,"CHG":1.05,"CHH":1.4},{"x":26.2,"CG":1.06,"CHG":1.45,"CHH":1.0},{"x":26.4,"CG":0.97,"CHG":1.2,"CHH":1.2},{"x":26.6,"CG":0.98,"CHG":1.17,"CHH":1.1},{"x":26.8,"CG":0.94,"CHG":1.08,"CHH":1.08},{"x":27,"CG":1.1,"CHG":1.12,"CHH":1.1},{"x":27.2,"CG":1.03,"CHG":1.2,"CHH":1.0},{"x":27.4,"CG":0.98,"CHG":1.35,"CHH":0.95},{"x":27.6,"CG":0.95,"CHG":1.2,"CHH":0.9},{"x":27.8,"CG":0.98,"CHG":0.93,"CHH":1.0},{"x":28,"CG":1.0,"CHG":0.88,"CHH":1.3},{"x":28.2,"CG":1.07,"CHG":1.2,"CHH":1.48},{"x":28.4,"CG":0.97,"CHG":1.31,"CHH":1.1},{"x":28.6,"CG":0.98,"CHG":1.05,"CHH":1.05},{"x":28.8,"CG":0.98,"CHG":1.0,"CHH":1.07},{"x":29,"CG":1.07,"CHG":1.0,"CHH":1.2},{"x":29.2,"CG":0.97,"CHG":1.18,"CHH":1.1},{"x":29.4,"CG":1.0,"CHG":1.08,"CHH":1.12},{"x":29.6,"CG":1.05,"CHG":0.8,"CHH":1.0},{"x":29.8,"CG":1.08,"CHG":1.1,"CHH":0.43},{"x":30,"CG":0.95,"CHG":0.34,"CHH":1.35},{"x":30.2,"CG":1.0,"CHG":1.28,"CHH":0.9},{"x":30.4,"CG":1.0,"CHG":1.0,"CHH":0.87}],
"grid":[{"x":187,"y":103,"x2":408,"y2":28},{"x":193,"y":197,"x2":410,"y2":120},{"x":198,"y":295,"x2":411,"y2":215},{"x":201,"y":390,"x2":412,"y2":305},{"x":203,"y":485,"x2":413,"y2":395},{"x":205,"y":575,"x2":414,"y2":490},{"x":408,"y":28,"x2":1028,"y2":62},{"x":410,"y":120,"x2":1025,"y2":155},{"x":411,"y":215,"x2":1020,"y2":240},{"x":412,"y":305,"x2":1018,"y2":326},{"x":413,"y":395,"x2":1015,"y2":412},{"x":414,"y":490,"x2":1020,"y2":497},{"x":187,"y":103,"x2":205,"y2":575},{"x":408,"y":28,"x2":414,"y2":490},{"x":205,"y":575,"x2":887,"y2":662},{"x":887,"y":662,"x2":1020,"y2":497},{"x":205,"y":575,"x2":205,"y2":590},{"x":365,"y":595,"x2":365,"y2":607},{"x":530,"y":617,"x2":530,"y2":630},{"x":705,"y":640,"x2":705,"y2":652},{"x":887,"y":662,"x2":887,"y2":675},{"x":935,"y":603,"x2":945,"y2":605},{"x":980,"y":548,"x2":990,"y2":550},{"x":1020,"y":497,"x2":1030,"y2":499}],
"d":[{"s":"g","f":"side","b":"g1","x":470,"y":122,"y2":440},{"s":"g","f":"side","b":"g1","x":493,"y":113,"y2":430},{"s":"g","f":"top","b":"g1","y":110,"x":430,"x2":493},{"s":"g","f":"top","b":"g1","y":122,"x":410,"x2":470},{"s":"g","f":"front","b":"g1","y":122,"x":410,"x2":470},{"s":"g","f":"front","b":"g1","y":470,"x":415,"x2":470},{"s":"g","f":"side","b":"g2","x":622,"y":58,"y2":470},{"s":"g","f":"side","b":"g2","x":642,"y":48,"y2":445},{"s":"g","f":"top","b":"g2","y":47,"x":580,"x2":642},{"s":"g","f":"top","b":"g2","y":58,"x":560,"x2":622},{"s":"g","f":"front","b":"g2","y":58,"x":560,"x2":622},{"s":"g","f":"front","b":"g2","y":490,"x":565,"x2":622},{"s":"g","f":"side","b":"g3","x":785,"y":385,"y2":507},{"s":"g","f":"side","b":"g3","x":800,"y":370,"y2":490},{"s":"g","f":"top","b":"g3","y":366,"x":745,"x2":800},{"s":"g","f":"top","b":"g3","y":385,"x":725,"x2":785},{"s":"g","f":"front","b":"g3","y":385,"x":725,"x2":785},{"s":"g","f":"front","b":"g3","y":507,"x":728,"x2":785},{"s":"g","f":"side","b":"g4","x":945,"y":197,"y2":527},{"s":"g","f":"side","b":"g4","x":962,"y":188,"y2":497},{"s":"g","f":"top","b":"g4","y":185,"x":900,"x2":962},{"s":"g","f":"top","b":"g4","y":197,"x":880,"x2":945},{"s":"g","f":"front","b":"g4","y":197,"x":880,"x2":945},{"s":"g","f":"front","b":"g4","y":527,"x":880,"x2":940},
{"s":"r","f":"side","b":"r1","x":405,"y":72,"y2":518},{"s":"r","f":"side","b":"r1","x":430,"y":65,"y2":497},{"s":"r","f":"top","b":"r1","y":63,"x":360,"x2":428},{"s":"r","f":"top","b":"r1","y":72,"x":340,"x2":405},{"s":"r","f":"front","b":"r1","y":72,"x":340,"x2":405},{"s":"r","f":"front","b":"r1","y":518,"x":370,"x2":412},{"s":"r","f":"side","b":"r2","x":565,"y":287,"y2":538},{"s":"r","f":"side","b":"r2","x":587,"y":275,"y2":515},{"s":"r","f":"top","b":"r2","y":272,"x":525,"x2":587},{"s":"r","f":"top","b":"r2","y":285,"x":500,"x2":565},{"s":"r","f":"front","b":"r2","y":285,"x":500,"x2":565},{"s":"r","f":"front","b":"r2","y":538,"x":503,"x2":565},{"s":"r","f":"side","b":"r3","x":728,"y":385,"y2":557},{"s":"r","f":"side","b":"r3","x":748,"y":372,"y2":535},{"s":"r","f":"top","b":"r3","y":368,"x":685,"x2":748},{"s":"r","f":"top","b":"r3","y":385,"x":662,"x2":730},{"s":"r","f":"front","b":"r3","y":385,"x":662,"x2":730},{"s":"r","f":"front","b":"r3","y":557,"x":665,"x2":727},{"s":"r","f":"side","b":"r4","x":900,"y":187,"y2":577},{"s":"r","f":"side","b":"r4","x":918,"y":177,"y2":553},{"s":"r","f":"top","b":"r4","y":173,"x":855,"x2":920},{"s":"r","f":"top","b":"r4","y":185,"x":835,"x2":905},{"s":"r","f":"front","b":"r4","y":185,"x":835,"x2":905},{"s":"r","f":"front","b":"r4","y":577,"x":838,"x2":895},
{"s":"b","f":"side","b":"b1","x":330,"y":102,"y2":572},{"s":"b","f":"side","b":"b1","x":366,"y":92,"y2":550},{"s":"b","f":"top","b":"b1","y":90,"x":290,"x2":358},{"s":"b","f":"top","b":"b1","y":102,"x":262,"x2":330},{"s":"b","f":"front","b":"b1","y":102,"x":262,"x2":330},{"s":"b","f":"front","b":"b1","y":572,"x":277,"x2":342},{"s":"b","f":"side","b":"b2","x":497,"y":448,"y2":592},{"s":"b","f":"side","b":"b2","x":527,"y":435,"y2":565},{"s":"b","f":"top","b":"b2","y":427,"x":458,"x2":525},{"s":"b","f":"top","b":"b2","y":447,"x":433,"x2":497},{"s":"b","f":"front","b":"b2","y":447,"x":433,"x2":497},{"s":"b","f":"front","b":"b2","y":590,"x":437,"x2":500},{"s":"b","f":"side","b":"b3","x":668,"y":450,"y2":612},{"s":"b","f":"side","b":"b3","x":693,"y":437,"y2":588},{"s":"b","f":"top","b":"b3","y":430,"x":628,"x2":693},{"s":"b","f":"top","b":"b3","y":448,"x":600,"x2":668},{"s":"b","f":"front","b":"b3","y":448,"x":600,"x2":668},{"s":"b","f":"front","b":"b3","y":612,"x":603,"x2":668},{"s":"b","f":"side","b":"b4","x":852,"y":340,"y2":635},{"s":"b","f":"side","b":"b4","x":872,"y":330,"y2":612},{"s":"b","f":"top","b":"b4","y":322,"x":810,"x2":872},{"s":"b","f":"top","b":"b4","y":337,"x":780,"x2":855},{"s":"b","f":"front","b":"b4","y":337,"x":780,"x2":855},{"s":"b","f":"front","b":"b4","y":635,"x":775,"x2":848}],
"ylab":[{"t":"1","x":148,"y":108},{"t":"0.8","x":152,"y":207},{"t":"0.6","x":155,"y":300},{"t":"0.4","x":158,"y":393},{"t":"0.2","x":163,"y":487},{"t":"0","x":165,"y":578}],
"xlab":[{"t":"Promoter","x":282,"y":640},{"t":"5' UTR","x":458,"y":650},{"t":"Gene body","x":637,"y":672},{"t":"3' UTR","x":808,"y":695}],
"leg":[{"t":"100 mC/kb","x":1090,"y":95,"tx":1113},{"t":"25 mC/kb","x":1090,"y":167,"tx":1113},{"t":"10 mC/kb","x":1090,"y":240,"tx":1113}]
},
"bounds":"flush","spacing":760,"resolve":{"scale":{"color":"independent"},"legend":{"color":"independent"}},
"vconcat":[
{"bounds":"flush","spacing":444.3,"resolve":{"scale":{"color":"independent"},"legend":{"color":"independent"}},"hconcat":[
{"bounds":"flush","spacing":366.7,"resolve":{"scale":{"color":"independent"},"legend":{"color":"independent"}},"vconcat":[
{"concat":[
{"width":226,"height":192,"data":{"name":"one"},"layer":[
{"data":{"name":"pie1"},"mark":{"type":"arc","outerRadius":70.7,"stroke":"#444","strokeWidth":0.6},"encoding":{"theta":{"field":"p","type":"quantitative","stack":true,"scale":{"domain":[0,100]}},"order":{"field":"o"},"color":{"field":"c","type":"nominal","legend":null,"scale":{"domain":["CG","CHG","CHH"],"range":["#b9b36b","#5f6bb3","#b59a97"]}}}},
{"data":{"name":"pie1"},"mark":{"type":"text","radius":37,"fontSize":9.2,"lineBreak":"\n","fill":"#222"},"encoding":{"theta":{"field":"p","type":"quantitative","stack":true},"order":{"field":"o"},"text":{"field":"t1"}}},
{"data":{"name":"pie1"},"mark":{"type":"text","radius":44,"fontSize":9.2,"lineBreak":"\n","fill":"#222"},"encoding":{"theta":{"field":"p","type":"quantitative","stack":true},"order":{"field":"o"},"text":{"field":"t2"}}},
{"mark":{"type":"text","text":"Col-0","fontSize":16.5,"align":"left","baseline":"alphabetic","fill":"#111"},"encoding":{"x":{"datum":0.08,"scale":{"domain":[0,1]},"axis":null},"y":{"datum":0.156,"scale":{"domain":[0,1]},"axis":null}}},
{"mark":{"type":"text","text":"A","fontSize":22,"fontWeight":"bold","align":"left","baseline":"alphabetic","fill":"#111"},"encoding":{"x":{"datum":0.044,"scale":{"domain":[0,1]},"axis":null},"y":{"datum":0.849,"scale":{"domain":[0,1]},"axis":null}}}
]},
{"width":106,"height":192,"data":{"name":"one"},"layer":[
{"data":{"name":"pie2"},"mark":{"type":"arc","outerRadius":70.7,"stroke":"#444","strokeWidth":0.6},"encoding":{"theta":{"field":"p","type":"quantitative","stack":true,"scale":{"domain":[0,100]}},"order":{"field":"o"},"color":{"field":"c","type":"nominal","legend":null,"scale":{"domain":["CG","CHG","CHH"],"range":["#b9b36b","#5f6bb3","#b59a97"]}}}},
{"data":{"name":"pie2"},"mark":{"type":"text","radius":38,"fontSize":9.2,"lineBreak":"\n","fill":"#222"},"encoding":{"theta":{"field":"p","type":"quantitative","stack":true},"order":{"field":"o"},"text":{"field":"t1"}}},
{"data":{"name":"pie2"},"mark":{"type":"text","radius":78,"dx":48,"fontSize":9.2,"lineBreak":"\n","fill":"#222"},"encoding":{"theta":{"field":"p","type":"quantitative","stack":true},"order":{"field":"o"},"text":{"field":"t2"}}},
{"mark":{"type":"rule","stroke":"#999","strokeWidth":0.7},"encoding":{"x":{"datum":0.54,"scale":{"domain":[0,1]},"axis":null},"x2":{"datum":0.903},"y":{"datum":0.866,"scale":{"domain":[0,1]},"axis":null},"y2":{"datum":0.853}}},
{"mark":{"type":"text","text":"met1","fontSize":16.5,"fontStyle":"italic","align":"left","baseline":"alphabetic","fill":"#111"},"encoding":{"x":{"datum":-0.34,"scale":{"domain":[0,1]},"axis":null},"y":{"datum":0.156,"scale":{"domain":[0,1]},"axis":null}}}
]},
{"width":226,"height":152,"data":{"name":"one"},"layer":[
{"data":{"name":"pie3"},"mark":{"type":"arc","outerRadius":70.7,"stroke":"#444","strokeWidth":0.6},"encoding":{"theta":{"field":"p","type":"quantitative","stack":true,"scale":{"domain":[0,100]}},"order":{"field":"o"},"color":{"field":"c","type":"nominal","legend":null,"scale":{"domain":["CG","CHG","CHH"],"range":["#b9b36b","#5f6bb3","#b59a97"]}}}},
{"data":{"name":"pie3"},"mark":{"type":"text","radius":40,"fontSize":9.2,"lineBreak":"\n","fill":"#222"},"encoding":{"theta":{"field":"p","type":"quantitative","stack":true},"order":{"field":"o"},"text":{"field":"t1"}}},
{"data":{"name":"pie3"},"mark":{"type":"text","radius":55,"fontSize":9.2,"lineBreak":"\n","fill":"#222"},"encoding":{"theta":{"field":"p","type":"quantitative","stack":true},"order":{"field":"o"},"text":{"field":"t2"}}},
{"data":{"name":"pie3"},"mark":{"type":"text","radius":85,"fontSize":9.2,"lineBreak":"\n","fill":"#222"},"encoding":{"theta":{"field":"p","type":"quantitative","stack":true},"order":{"field":"o"},"text":{"field":"t3"}}},
{"mark":{"type":"text","text":"ddc","fontSize":16.5,"fontStyle":"italic","align":"left","baseline":"alphabetic","fill":"#111"},"encoding":{"x":{"datum":0.14,"scale":{"domain":[0,1]},"axis":null},"y":{"datum":0.072,"scale":{"domain":[0,1]},"axis":null}}}
]},
{"width":106,"height":152,"data":{"name":"one"},"layer":[
{"data":{"name":"pie4"},"mark":{"type":"arc","outerRadius":70.7,"stroke":"#444","strokeWidth":0.6},"encoding":{"theta":{"field":"p","type":"quantitative","stack":true,"scale":{"domain":[0,100]}},"order":{"field":"o"},"color":{"field":"c","type":"nominal","legend":null,"scale":{"domain":["CG","CHG","CHH"],"range":["#b9b36b","#5f6bb3","#b59a97"]}}}},
{"data":{"name":"pie4"},"mark":{"type":"text","radius":37,"fontSize":9.2,"lineBreak":"\n","fill":"#222"},"encoding":{"theta":{"field":"p","type":"quantitative","stack":true},"order":{"field":"o"},"text":{"field":"t1"}}},
{"data":{"name":"pie4"},"mark":{"type":"text","radius":46,"fontSize":9.2,"lineBreak":"\n","fill":"#222"},"encoding":{"theta":{"field":"p","type":"quantitative","stack":true},"order":{"field":"o"},"text":{"field":"t2"}}},
{"mark":{"type":"text","text":"rdd","fontSize":16.5,"fontStyle":"italic","align":"left","baseline":"alphabetic","fill":"#111"},"encoding":{"x":{"datum":-0.226,"scale":{"domain":[0,1]},"axis":null},"y":{"datum":0.072,"scale":{"domain":[0,1]},"axis":null}}}
]}
],"columns":2,"spacing":0,"bounds":"flush","align":"each","resolve":{"scale":{"color":"independent"},"legend":{"color":"independent"}}},
{"bounds":"flush","spacing":43,"resolve":{"scale":{"color":"independent"},"legend":{"color":"independent"}},"vconcat":[
{"width":356.7,"height":144.3,"data":{"name":"one"},"layer":[
{"data":{"name":"c1"},"transform":[{"fold":["CG","CHG","CHH"],"as":["k","v"]}],"mark":{"type":"line","interpolate":"monotone","strokeWidth":1.3},"encoding":{"x":{"field":"x","type":"quantitative","scale":{"domain":[-1490,2031],"nice":false,"zero":false},"axis":null},"y":{"field":"v","type":"quantitative","scale":{"domain":[0,1.245],"nice":false},"axis":{"orient":"left","offset":-151,"values":[0,0.2,0.4,0.6,0.8,1,1.2],"labels":false,"title":null,"tickSize":0,"domainColor":"#ddd"}},"color":{"field":"k","type":"nominal","scale":{"domain":["CG","CHG","CHH"],"range":["#bcb26c","#6068b8","#b39999"]},"legend":{"orient":"none","legendX":253,"legendY":7,"direction":"horizontal","title":null,"symbolType":"stroke","symbolSize":137,"symbolStrokeWidth":1.3,"labelFontSize":6.5,"labelOffset":1,"columnPadding":5}}}},
{"data":{"name":"t2"},"mark":{"type":"text","align":"right","baseline":"middle","dx":-3,"fontSize":7.5,"fontWeight":"bold","fill":"#333"},"encoding":{"x":{"datum":0},"y":{"field":"w","type":"quantitative"},"text":{"field":"t"}}},
{"mark":{"type":"rect","fill":null,"stroke":"#9c9ce8","strokeWidth":1.5},"encoding":{"x":{"datum":-1030},"x2":{"datum":2031},"y":{"datum":0},"y2":{"datum":1.245}}},
{"data":{"name":"track"},"mark":{"type":"rect","stroke":"#888","strokeWidth":1},"encoding":{"x":{"field":"a","type":"quantitative"},"x2":{"field":"b"},"y":{"datum":-0.005},"y2":{"datum":-0.105},"fill":{"condition":{"test":"datum.seg==='Gene'","value":"#000"},"value":"#e8e8e8"}}},
{"data":{"name":"track"},"mark":{"type":"text","fontSize":8,"baseline":"middle"},"encoding":{"x":{"field":"m","type":"quantitative"},"y":{"datum":-0.055},"text":{"field":"seg"},"fill":{"condition":{"test":"datum.seg==='Gene'","value":"#bbb"},"value":"#333"}}},
{"data":{"name":"marks"},"mark":{"type":"point","shape":"triangle-up","filled":true,"size":22,"fill":"#1a1a90","opacity":1},"encoding":{"x":{"field":"pos","type":"quantitative"},"y":{"datum":-0.13}}},
{"data":{"name":"marks"},"mark":{"type":"text","fontSize":8.3,"fill":"#3c3cd0","baseline":"middle"},"encoding":{"x":{"field":"pos","type":"quantitative"},"y":{"datum":-0.2},"text":{"field":"lab"}}},
{"mark":{"type":"text","text":"Col-0","fontSize":17.7,"align":"left","baseline":"alphabetic","fill":"#111"},"encoding":{"x":{"datum":-980},"y":{"datum":1.07}}},
{"mark":{"type":"text","text":"C","fontSize":22,"fontWeight":"bold","align":"left","baseline":"alphabetic","fill":"#111"},"encoding":{"x":{"datum":-1426},"y":{"datum":1.245}}}
]},
{"width":356.7,"height":141.7,"data":{"name":"one"},"layer":[
{"data":{"name":"c2"},"transform":[{"fold":["CG","CHG","CHH"],"as":["k","v"]}],"mark":{"type":"line","interpolate":"monotone","strokeWidth":1.3},"encoding":{"x":{"field":"x","type":"quantitative","scale":{"domain":[-1490,2031],"nice":false,"zero":false},"axis":null},"y":{"field":"v","type":"quantitative","scale":{"domain":[0,1.235],"nice":false},"axis":{"orient":"left","offset":-151,"values":[0,0.2,0.4,0.6,0.8,1,1.2],"labels":false,"title":null,"tickSize":0,"domainColor":"#ddd"}},"color":{"field":"k","type":"nominal","scale":{"domain":["CG","CHG","CHH"],"range":["#bcb26c","#6068b8","#b39999"]},"legend":{"orient":"none","legendX":253,"legendY":5.5,"direction":"horizontal","title":null,"symbolType":"stroke","symbolSize":137,"symbolStrokeWidth":1.3,"labelFontSize":6.5,"labelOffset":1,"columnPadding":5}}}},
{"data":{"name":"t2"},"mark":{"type":"text","align":"right","baseline":"middle","dx":-3,"fontSize":7.5,"fontWeight":"bold","fill":"#333"},"encoding":{"x":{"datum":0},"y":{"field":"w","type":"quantitative"},"text":{"field":"t"}}},
{"mark":{"type":"rect","fill":null,"stroke":"#9c9ce8","strokeWidth":1.5},"encoding":{"x":{"datum":-1030},"x2":{"datum":2031},"y":{"datum":0},"y2":{"datum":1.235}}},
{"data":{"name":"track"},"mark":{"type":"rect","stroke":"#888","strokeWidth":1},"encoding":{"x":{"field":"a","type":"quantitative"},"x2":{"field":"b"},"y":{"datum":-0.005},"y2":{"datum":-0.105},"fill":{"condition":{"test":"datum.seg==='Gene'","value":"#000"},"value":"#e8e8e8"}}},
{"data":{"name":"track"},"mark":{"type":"text","fontSize":8,"baseline":"middle"},"encoding":{"x":{"field":"m","type":"quantitative"},"y":{"datum":-0.055},"text":{"field":"seg"},"fill":{"condition":{"test":"datum.seg==='Gene'","value":"#bbb"},"value":"#333"}}},
{"data":{"name":"marks"},"mark":{"type":"point","shape":"triangle-up","filled":true,"size":22,"fill":"#1a1a90","opacity":1},"encoding":{"x":{"field":"pos","type":"quantitative"},"y":{"datum":-0.127}}},
{"data":{"name":"marks"},"mark":{"type":"text","fontSize":8.3,"fill":"#3c3cd0","baseline":"middle"},"encoding":{"x":{"field":"pos","type":"quantitative"},"y":{"datum":-0.2},"text":{"field":"lab"}}},
{"mark":{"type":"text","text":"met1","fontSize":17.6,"fontStyle":"italic","align":"left","baseline":"alphabetic","fill":"#111"},"encoding":{"x":{"datum":-947},"y":{"datum":1.076}}}
]}
]}
]},
{"bounds":"flush","spacing":0,"resolve":{"scale":{"color":"independent"},"legend":{"color":"independent"}},"vconcat":[
{"width":10,"height":59.3,"data":{"name":"one"},"mark":{"type":"point","opacity":0},"encoding":{}},
{"bounds":"flush","spacing":83.2,"resolve":{"scale":{"color":"independent"},"legend":{"color":"independent"}},"vconcat":[
{"width":441.7,"height":160,"data":{"name":"one"},"layer":[
{"data":{"name":"b1"},"transform":[{"fold":["CG","CHG","CHH"],"as":["k","v"]}],"mark":{"type":"line","strokeWidth":1.2},"encoding":{"x":{"field":"x","type":"quantitative","scale":{"domain":[0,30.46],"nice":false,"zero":false},"axis":{"values":[0,5,10,15,20,25,30],"labelExpr":"datum.value==0?'0.E+00':datum.value==5?'5.E+06':datum.value==10?'1.E+07':datum.value<=20?'2.E+07':'3.E+07'","title":"Chromosome 1 coordinate","titleFontSize":12.7,"titlePadding":7,"labelFontSize":9,"labelPadding":5,"tickSize":3,"labelFlush":false,"labelOverlap":false}},"y":{"field":"v","type":"quantitative","scale":{"domain":[0,1.9],"nice":false},"axis":{"values":[0,0.2,0.4,0.6,0.8,1,1.2,1.4,1.6,1.8],"labels":false,"title":null,"tickSize":3}},"color":{"field":"k","type":"nominal","scale":{"domain":["CG","CHG","CHH"],"range":["#bcb26c","#6068b8","#b39999"]},"legend":{"orient":"none","legendX":140.7,"legendY":-7,"direction":"horizontal","title":null,"symbolType":"stroke","symbolSize":400,"symbolStrokeWidth":1.5,"labelFontSize":12.5,"labelOffset":1,"columnPadding":4}}}},
{"data":{"name":"t1"},"mark":{"type":"text","align":"right","baseline":"middle","dx":-6,"fontSize":9.5,"fill":"#333"},"encoding":{"x":{"datum":0},"y":{"field":"w","type":"quantitative"},"text":{"field":"t"}}},
{"mark":{"type":"rule","stroke":"#777","strokeWidth":1},"encoding":{"y":{"datum":1}}},
{"mark":{"type":"text","text":"met1","fontSize":17,"fontStyle":"italic","align":"left","baseline":"alphabetic","fill":"#111"},"encoding":{"x":{"datum":11.38},"y":{"datum":2.106}}},
{"mark":{"type":"text","text":"vs Col-0","fontSize":17,"align":"left","baseline":"alphabetic","fill":"#111"},"encoding":{"x":{"datum":14.41},"y":{"datum":2.106}}},
{"mark":{"type":"text","text":"B","fontSize":22,"fontWeight":"bold","align":"left","baseline":"alphabetic","fill":"#111"},"encoding":{"x":{"datum":-4.19},"y":{"datum":2.228}}},
{"mark":{"type":"text","text":"met1","fontSize":11.7,"fontStyle":"italic","angle":270,"align":"left","baseline":"middle","fill":"#111"},"encoding":{"x":{"datum":-3.26},"y":{"datum":0.597}}},
{"mark":{"type":"text","text":"/ Col-0","fontSize":11.7,"angle":270,"align":"left","baseline":"middle","fill":"#111"},"encoding":{"x":{"datum":-3.26},"y":{"datum":0.924}}},
{"mark":{"type":"text","text":"methylcytosines per 200 kb","fontSize":11.8,"angle":270,"align":"center","baseline":"middle","fill":"#111"},"encoding":{"x":{"datum":-2.37},"y":{"datum":0.977}}},
{"mark":{"type":"text","text":"1 Mb","fontSize":8.5,"baseline":"middle","fill":"#222"},"encoding":{"x":{"datum":29.45},"y":{"datum":2.0}}},
{"mark":{"type":"rule","stroke":"#333","strokeWidth":0.8},"encoding":{"x":{"datum":29.0},"x2":{"datum":29.92},"y":{"datum":1.9}}},
{"mark":{"type":"rule","stroke":"#333","strokeWidth":0.8},"encoding":{"x":{"datum":29.0},"y":{"datum":1.87},"y2":{"datum":1.93}}},
{"mark":{"type":"rule","stroke":"#333","strokeWidth":0.8},"encoding":{"x":{"datum":29.92},"y":{"datum":1.87},"y2":{"datum":1.93}}}
]},
{"width":441.7,"height":160,"data":{"name":"one"},"layer":[
{"data":{"name":"b2"},"transform":[{"fold":["CG","CHG","CHH"],"as":["k","v"]}],"mark":{"type":"line","strokeWidth":1.2},"encoding":{"x":{"field":"x","type":"quantitative","scale":{"domain":[0,30.46],"nice":false,"zero":false},"axis":{"values":[0,5,10,15,20,25,30],"labelExpr":"datum.value==0?'0.E+00':datum.value==5?'5.E+06':datum.value==10?'1.E+07':datum.value<=20?'2.E+07':'3.E+07'","title":"Chromosome 1 coordinate","titleFontSize":12.7,"titlePadding":7,"labelFontSize":9,"labelPadding":5,"tickSize":3,"labelFlush":false,"labelOverlap":false}},"y":{"field":"v","type":"quantitative","scale":{"domain":[0,1.2],"nice":false},"axis":{"values":[0,0.2,0.4,0.6,0.8,1,1.2],"labels":false,"title":null,"tickSize":3}},"color":{"field":"k","type":"nominal","scale":{"domain":["CG","CHG","CHH"],"range":["#bcb26c","#6068b8","#b39999"]},"legend":{"orient":"none","legendX":140.7,"legendY":-3,"direction":"horizontal","title":null,"symbolType":"stroke","symbolSize":400,"symbolStrokeWidth":1.5,"labelFontSize":12.5,"labelOffset":1,"columnPadding":4}}}},
{"data":{"name":"t2"},"mark":{"type":"text","align":"right","baseline":"middle","dx":-6,"fontSize":9.5,"fill":"#333"},"encoding":{"x":{"datum":0},"y":{"field":"w","type":"quantitative"},"text":{"field":"t"}}},
{"mark":{"type":"rule","stroke":"#777","strokeWidth":1},"encoding":{"y":{"datum":1}}},
{"mark":{"type":"text","text":"ddc","fontSize":17,"fontStyle":"italic","align":"left","baseline":"alphabetic","fill":"#111"},"encoding":{"x":{"datum":11.72},"y":{"datum":1.295}}},
{"mark":{"type":"text","text":"vs Col-0","fontSize":17,"align":"left","baseline":"alphabetic","fill":"#111"},"encoding":{"x":{"datum":14.0},"y":{"datum":1.295}}},
{"mark":{"type":"text","text":"ddc","fontSize":11.7,"fontStyle":"italic","angle":270,"align":"left","baseline":"middle","fill":"#111"},"encoding":{"x":{"datum":-3.26},"y":{"datum":0.40}}},
{"mark":{"type":"text","text":"/ Col-0","fontSize":11.7,"angle":270,"align":"left","baseline":"middle","fill":"#111"},"encoding":{"x":{"datum":-3.26},"y":{"datum":0.56}}},
{"mark":{"type":"text","text":"methylcytosines per 200 kb","fontSize":11.8,"angle":270,"align":"center","baseline":"middle","fill":"#111"},"encoding":{"x":{"datum":-2.37},"y":{"datum":0.605}}},
{"mark":{"type":"text","text":"1 Mb","fontSize":8.5,"baseline":"middle","fill":"#222"},"encoding":{"x":{"datum":29.45},"y":{"datum":1.145}}},
{"mark":{"type":"rule","stroke":"#333","strokeWidth":0.8},"encoding":{"x":{"datum":29.0},"x2":{"datum":29.92},"y":{"datum":1.09}}},
{"mark":{"type":"rule","stroke":"#333","strokeWidth":0.8},"encoding":{"x":{"datum":29.0},"y":{"datum":1.07},"y2":{"datum":1.11}}},
{"mark":{"type":"rule","stroke":"#333","strokeWidth":0.8},"encoding":{"x":{"datum":29.92},"y":{"datum":1.07},"y2":{"datum":1.11}}}
]},
{"width":441.7,"height":161,"data":{"name":"one"},"layer":[
{"data":{"name":"b3"},"transform":[{"fold":["CG","CHG","CHH"],"as":["k","v"]}],"mark":{"type":"line","strokeWidth":1.2},"encoding":{"x":{"field":"x","type":"quantitative","scale":{"domain":[0,30.46],"nice":false,"zero":false},"axis":{"values":[0,5,10,15,20,25,30],"labelExpr":"datum.value==0?'0.E+00':datum.value==5?'5.E+06':datum.value==10?'1.E+07':datum.value<=20?'2.E+07':'3.E+07'","title":"Chromosome 1 coordinate","titleFontSize":12.7,"titlePadding":7,"labelFontSize":9,"labelPadding":5,"tickSize":3,"labelFlush":false,"labelOverlap":false}},"y":{"field":"v","type":"quantitative","scale":{"domain":[0.2,1.6],"nice":false,"zero":false},"axis":{"values":[0.2,0.4,0.6,0.8,1,1.2,1.4,1.6],"labels":false,"title":null,"tickSize":3}},"color":{"field":"k","type":"nominal","scale":{"domain":["CG","CHG","CHH"],"range":["#bcb26c","#6068b8","#b39999"]},"legend":{"orient":"none","legendX":140.7,"legendY":-4,"direction":"horizontal","title":null,"symbolType":"stroke","symbolSize":400,"symbolStrokeWidth":1.5,"labelFontSize":12.5,"labelOffset":1,"columnPadding":4}}}},
{"data":{"name":"t3"},"mark":{"type":"text","align":"right","baseline":"middle","dx":-6,"fontSize":9.5,"fill":"#333"},"encoding":{"x":{"datum":0},"y":{"field":"w","type":"quantitative"},"text":{"field":"t"}}},
{"mark":{"type":"rule","stroke":"#777","strokeWidth":1},"encoding":{"y":{"datum":1}}},
{"mark":{"type":"text","text":"rdd","fontSize":17,"fontStyle":"italic","align":"left","baseline":"alphabetic","fill":"#111"},"encoding":{"x":{"datum":11.85},"y":{"datum":1.71}}},
{"mark":{"type":"text","text":"vs Col-0","fontSize":17,"align":"left","baseline":"alphabetic","fill":"#111"},"encoding":{"x":{"datum":13.9},"y":{"datum":1.71}}},
{"mark":{"type":"text","text":"rdd","fontSize":11.7,"fontStyle":"italic","angle":270,"align":"left","baseline":"middle","fill":"#111"},"encoding":{"x":{"datum":-3.26},"y":{"datum":0.65}}},
{"mark":{"type":"text","text":"/ Col-0","fontSize":11.7,"angle":270,"align":"left","baseline":"middle","fill":"#111"},"encoding":{"x":{"datum":-3.26},"y":{"datum":0.823}}},
{"mark":{"type":"text","text":"methylcytosines per 200 kb","fontSize":11.8,"angle":270,"align":"center","baseline":"middle","fill":"#111"},"encoding":{"x":{"datum":-2.37},"y":{"datum":0.887}}},
{"mark":{"type":"text","text":"1 Mb","fontSize":8.5,"baseline":"middle","fill":"#222"},"encoding":{"x":{"datum":29.45},"y":{"datum":1.625}}},
{"mark":{"type":"rule","stroke":"#333","strokeWidth":0.8},"encoding":{"x":{"datum":29.0},"x2":{"datum":29.92},"y":{"datum":1.55}}},
{"mark":{"type":"rule","stroke":"#333","strokeWidth":0.8},"encoding":{"x":{"datum":29.0},"y":{"datum":1.53},"y2":{"datum":1.57}}},
{"mark":{"type":"rule","stroke":"#333","strokeWidth":0.8},"encoding":{"x":{"datum":29.92},"y":{"datum":1.53},"y2":{"datum":1.57}}}
]}
]}
]}
]},
{"width":480,"height":290,"data":{"name":"one"},"encoding":{"x":{"field":"x","type":"quantitative","scale":{"domain":[0,1440],"nice":false,"zero":false},"axis":null},"y":{"field":"y","type":"quantitative","scale":{"domain":[870,0],"nice":false,"zero":false},"axis":null}},"layer":[
{"data":{"name":"grid"},"mark":{"type":"rule","stroke":"#b5b5b5","strokeWidth":0.9},"encoding":{"x2":{"field":"x2"},"y2":{"field":"y2"}}},
{"data":{"name":"d"},"transform":[{"filter":"datum.s=='g'&&datum.f=='side'"}],"mark":{"type":"area","color":{"gradient":"linear","x1":0,"y1":0,"x2":0,"y2":1,"stops":[{"offset":0,"color":"#8fae55"},{"offset":1,"color":"#6d8c3a"}]}},"encoding":{"y2":{"field":"y2"},"detail":{"field":"b"}}},
{"data":{"name":"d"},"transform":[{"filter":"datum.s=='g'&&datum.f=='top'"}],"mark":{"type":"area","orient":"horizontal","color":"#97b760"},"encoding":{"x2":{"field":"x2"},"detail":{"field":"b"}}},
{"data":{"name":"d"},"transform":[{"filter":"datum.s=='g'&&datum.f=='front'"}],"mark":{"type":"area","orient":"horizontal","color":{"gradient":"linear","x1":0,"y1":0,"x2":0,"y2":1,"stops":[{"offset":0,"color":"#dcff9a"},{"offset":1,"color":"#b2dc62"}]}},"encoding":{"x2":{"field":"x2"},"detail":{"field":"b"}}},
{"data":{"name":"d"},"transform":[{"filter":"datum.s=='r'&&datum.f=='side'"}],"mark":{"type":"area","color":{"gradient":"linear","x1":0,"y1":0,"x2":0,"y2":1,"stops":[{"offset":0,"color":"#b04f52"},{"offset":1,"color":"#8c2427"}]}},"encoding":{"y2":{"field":"y2"},"detail":{"field":"b"}}},
{"data":{"name":"d"},"transform":[{"filter":"datum.s=='r'&&datum.f=='top'"}],"mark":{"type":"area","orient":"horizontal","color":"#c35d5f"},"encoding":{"x2":{"field":"x2"},"detail":{"field":"b"}}},
{"data":{"name":"d"},"transform":[{"filter":"datum.s=='r'&&datum.f=='front'"}],"mark":{"type":"area","orient":"horizontal","color":{"gradient":"linear","x1":0,"y1":0,"x2":0,"y2":1,"stops":[{"offset":0,"color":"#ffa0a0"},{"offset":1,"color":"#d83c3c"}]}},"encoding":{"x2":{"field":"x2"},"detail":{"field":"b"}}},
{"data":{"name":"d"},"transform":[{"filter":"datum.s=='b'&&datum.f=='side'"}],"mark":{"type":"area","color":{"gradient":"linear","x1":0,"y1":0,"x2":0,"y2":1,"stops":[{"offset":0,"color":"#5b80ad"},{"offset":1,"color":"#31588c"}]}},"encoding":{"y2":{"field":"y2"},"detail":{"field":"b"}}},
{"data":{"name":"d"},"transform":[{"filter":"datum.s=='b'&&datum.f=='top'"}],"mark":{"type":"area","orient":"horizontal","color":"#6e8fbe"},"encoding":{"x2":{"field":"x2"},"detail":{"field":"b"}}},
{"data":{"name":"d"},"transform":[{"filter":"datum.s=='b'&&datum.f=='front'"}],"mark":{"type":"area","orient":"horizontal","color":{"gradient":"linear","x1":0,"y1":0,"x2":0,"y2":1,"stops":[{"offset":0,"color":"#a2c8ff"},{"offset":1,"color":"#3d80d4"}]}},"encoding":{"x2":{"field":"x2"},"detail":{"field":"b"}}},
{"data":{"name":"ylab"},"mark":{"type":"text","fontSize":14.4,"align":"right","baseline":"middle","fill":"#222"},"encoding":{"text":{"field":"t"}}},
{"data":{"name":"xlab"},"mark":{"type":"text","fontSize":15.5,"align":"right","baseline":"middle","angle":309,"fill":"#222"},"encoding":{"text":{"field":"t"}}},
{"data":{"name":"leg"},"mark":{"type":"point","shape":"square","filled":true,"size":55,"opacity":1},"encoding":{"color":{"field":"t","type":"nominal","legend":null,"scale":{"domain":["100 mC/kb","25 mC/kb","10 mC/kb"],"range":["#5c9be8","#ee5c5c","#c0e878"]}}}},
{"data":{"name":"leg"},"mark":{"type":"text","fontSize":15,"align":"left","baseline":"middle","fill":"#222"},"encoding":{"x":{"field":"tx","type":"quantitative"},"text":{"field":"t"}}},
{"data":{"name":"letter"},"mark":{"type":"text","fontSize":22,"fontWeight":"bold","align":"left","baseline":"alphabetic","fill":"#111"},"encoding":{"text":{"field":"t"}}}
]}
]}
